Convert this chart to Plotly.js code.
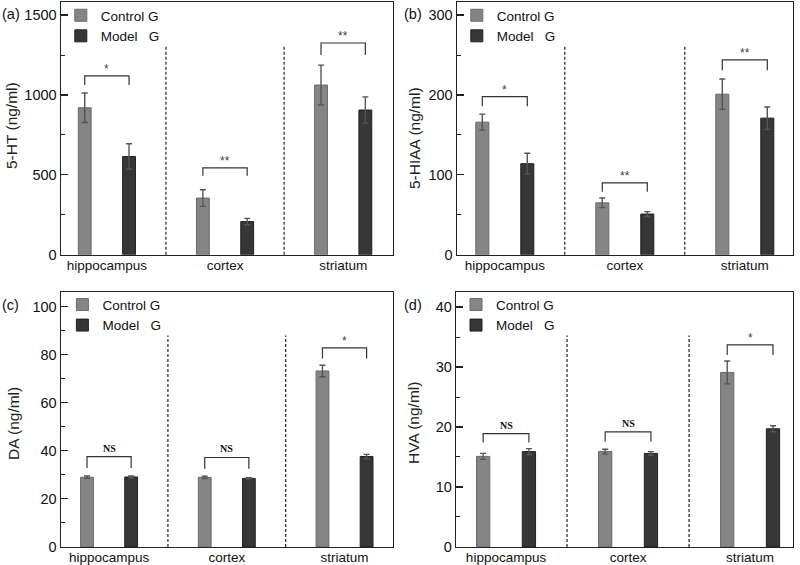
<!DOCTYPE html>
<html>
<head>
<meta charset="utf-8">
<script src="https://cdn.plot.ly/plotly-3.0.1.min.js"></script>
<style>html,body{margin:0;padding:0;background:#fff;}#chart{width:800px;height:565px;}</style>
</head>
<body>
<div id="chart"></div>
<script>
// ---------- data ----------
const regions = ['hippocampus', 'cortex', 'striatum'];
const seriesNames = ['Control G', 'Model   G'];

const ht_ctrl = [920, 355, 1062];
const ht_ctrl_err = [92, 52, 125];
const ht_model = [615, 208, 906];
const ht_model_err = [80, 20, 82];

const hiaa_ctrl = [166, 65, 201];
const hiaa_ctrl_err = [10, 6, 19];
const hiaa_model = [114, 51, 171];
const hiaa_model_err = [13, 3, 14];

const da_ctrl = [29.0, 28.9, 73.2];
const da_ctrl_err = [0.5, 0.5, 2.4];
const da_model = [29.1, 28.5, 37.6];
const da_model_err = [0.4, 0.3, 0.9];

const hva_ctrl = [15.1, 15.9, 29.1];
const hva_ctrl_err = [0.5, 0.4, 1.9];
const hva_model = [15.9, 15.6, 19.7];
const hva_model_err = [0.5, 0.3, 0.5];

// significance brackets: top level, foot level, label
const ht_brTop = [1119, 544, 1325];
const ht_brFoot = [1062, 494, 1250];
const ht_sig = ['*', '**', '**'];
const hiaa_brTop = [198, 90, 244];
const hiaa_brFoot = [186, 79, 231];
const hiaa_sig = ['*', '**', '**'];
const da_brTop = [37.6, 37.2, 82.8];
const da_brFoot = [32.8, 32.5, 78.4];
const da_sig = ['NS', 'NS', '*'];
const hva_brTop = [18.9, 19.2, 33.7];
const hva_brFoot = [17.4, 17.6, 32.0];
const hva_sig = ['NS', 'NS', '*'];

const yTitles = ['5-HT (ng/ml)', '5-HIAA (ng/ml)', 'DA (ng/ml)', 'HVA (ng/ml)'];
const panelLabels = ['(a)', '(b)', '(c)', '(d)'];

// ---------- styling ----------
const FONT = 'Liberation Sans, Arial, Helvetica, sans-serif';
const CTRL_COLOR = '#858585', CTRL_LINE = '#6a6a6a';
const MODEL_COLOR = '#363636', MODEL_LINE = '#222222';
const BARGAP = 0.25;
const HALF = (1 - BARGAP) / 4; // offset of each grouped bar centre from category centre

const panels = [
  {ctrl: ht_ctrl, ce: ht_ctrl_err, model: ht_model, me: ht_model_err, top: ht_brTop, foot: ht_brFoot, sig: ht_sig,
   xdom: [0.076, 0.491], ydom: [0.549, 0.996], xr: [-0.39, 2.42], yr: [0, 1580], dtick: 500, minor: 250,
   legend: {x: 0.076, y: 1.0}, titleX: 12, titleY: 126, labelX: 0, labelY: 14},
  {ctrl: hiaa_ctrl, ce: hiaa_ctrl_err, model: hiaa_model, me: hiaa_model_err, top: hiaa_brTop, foot: hiaa_brFoot, sig: hiaa_sig,
   xdom: [0.571, 0.991], ydom: [0.549, 0.996], xr: [-0.40, 2.40], yr: [0, 316], dtick: 100, minor: 50,
   legend: {x: 0.571, y: 1.0}, titleX: 414, titleY: 138, labelX: 402, labelY: 14},
  {ctrl: da_ctrl, ce: da_ctrl_err, model: da_model, me: da_model_err, top: da_brTop, foot: da_brFoot, sig: da_sig,
   xdom: [0.076, 0.491], ydom: [0.032, 0.483], xr: [-0.41, 2.41], yr: [0, 106], dtick: 20, minor: 10,
   legend: {x: 0.078, y: 0.488}, titleX: 13, titleY: 424, labelX: 0, labelY: 305},
  {ctrl: hva_ctrl, ce: hva_ctrl_err, model: hva_model, me: hva_model_err, top: hva_brTop, foot: hva_brFoot, sig: hva_sig,
   xdom: [0.570, 0.991], ydom: [0.032, 0.483], xr: [-0.41, 2.35], yr: [0, 42.5], dtick: 10, minor: 5,
   legend: {x: 0.570, y: 0.488}, titleX: 413, titleY: 423, labelX: 402, labelY: 305}
];

const W = 800, H = 565;
const idx = regions.map((_, i) => i);
const traces = [];
const layout = {
  width: W, height: H,
  margin: {l: 0, r: 0, t: 0, b: 0},
  paper_bgcolor: '#ffffff', plot_bgcolor: '#ffffff',
  font: {family: FONT, size: 14, color: '#111'},
  barmode: 'group', bargap: BARGAP, bargroupgap: 0.71,
  shapes: [], annotations: []
};

panels.forEach((p, k) => {
  const n = k === 0 ? '' : String(k + 1);
  const xa = 'x' + n, ya = 'y' + n;
  const lg = 'legend' + n;
  traces.push({
    type: 'bar', x: idx, y: p.ctrl, name: seriesNames[0], xaxis: xa, yaxis: ya, legend: lg,
    marker: {color: CTRL_COLOR, line: {color: CTRL_LINE, width: 1}},
    error_y: {type: 'data', array: p.ce, visible: true, color: '#555', thickness: 1.4, width: 3}
  });
  traces.push({
    type: 'bar', x: idx, y: p.model, name: seriesNames[1], xaxis: xa, yaxis: ya, legend: lg,
    marker: {color: MODEL_COLOR, line: {color: MODEL_LINE, width: 1}},
    error_y: {type: 'data', array: p.me, visible: true, color: '#555', thickness: 1.4, width: 3}
  });
  // brackets
  idx.forEach(i => {
    traces.push({
      type: 'scatter', mode: 'lines', xaxis: xa, yaxis: ya, showlegend: false, hoverinfo: 'skip',
      x: [i - HALF, i - HALF, i + HALF, i + HALF],
      y: [p.foot[i], p.top[i], p.top[i], p.foot[i]],
      line: {color: '#333', width: 1.2}
    });
    const isNS = p.sig[i] === 'NS';
    layout.annotations.push({
      xref: xa, yref: ya, x: i, y: p.top[i], text: p.sig[i], showarrow: false,
      xanchor: 'center', yanchor: 'bottom', yshift: isNS ? 1 : -2,
      font: isNS ? {family: 'Liberation Serif, Times New Roman, serif', size: 10, color: '#111', weight: 'bold'}
                 : {family: FONT, size: 12, color: '#444'}
    });
  });
  // dashed separators between regions
  [0.5, 1.5].forEach(sx => {
    layout.shapes.push({type: 'line', xref: xa, yref: ya + ' domain', x0: sx, x1: sx, y0: 0, y1: 0.83,
      line: {color: '#222', width: 1.2, dash: '3px,2px'}});
  });
  layout['xaxis' + n] = {
    domain: p.xdom, range: p.xr, type: 'linear', anchor: ya,
    tickvals: idx, ticktext: regions, ticks: '', showgrid: false, zeroline: false,
    showline: true, mirror: true, linecolor: '#222', linewidth: 1.3, ticklabelstandoff: -2,
    tickfont: {family: FONT, size: 13.5, color: '#111'}, fixedrange: true
  };
  layout['yaxis' + n] = {
    domain: p.ydom, range: p.yr, anchor: xa, dtick: p.dtick, tick0: 0,
    ticks: 'inside', ticklen: 7, tickwidth: 1.2, tickcolor: '#222',
    minor: {ticks: 'inside', ticklen: 4, dtick: p.minor, tick0: 0, tickcolor: '#222', tickwidth: 1},
    showgrid: false, zeroline: false, showline: true, mirror: true, linecolor: '#222', linewidth: 1.3,
    tickfont: {family: FONT, size: 14.5, color: '#111'}, fixedrange: true
  };
  layout[lg] = {
    x: p.legend.x, y: p.legend.y, xanchor: 'left', yanchor: 'top',
    bgcolor: 'rgba(0,0,0,0)', borderwidth: 0,
    font: {family: FONT, size: 13.5, color: '#111'}, tracegroupgap: 0, itemwidth: 30
  };
  layout.annotations.push({
    xref: 'paper', yref: 'paper', x: p.titleX / W, y: 1 - p.titleY / H, text: yTitles[k],
    textangle: -90, showarrow: false, xanchor: 'center', yanchor: 'middle',
    font: {family: FONT, size: 15.5, color: '#222'}
  });
  layout.annotations.push({
    xref: 'paper', yref: 'paper', x: p.labelX / W, y: 1 - p.labelY / H, text: panelLabels[k],
    showarrow: false, xanchor: 'left', yanchor: 'middle',
    font: {family: FONT, size: 14.5, color: '#111'}
  });
});

Plotly.newPlot('chart', traces, layout, {displayModeBar: false, staticPlot: true});
</script>
</body>
</html>
